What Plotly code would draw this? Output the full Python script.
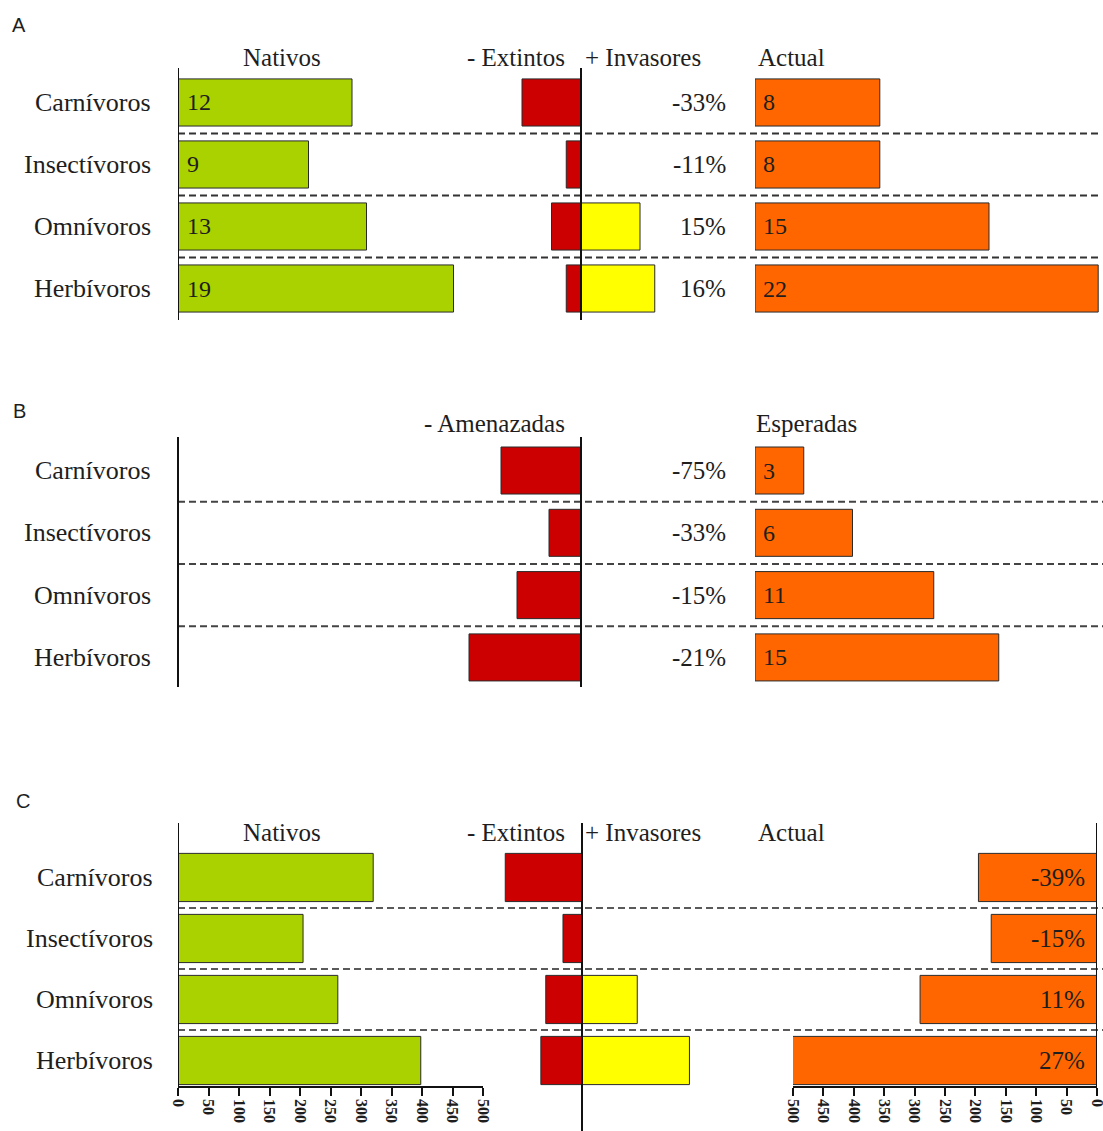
import plotly.graph_objects as go

W, H = 1103, 1131

# ---- data -------------------------------------------------------------
categorias = ["Carnívoros", "Insectívoros", "Omnívoros", "Herbívoros"]
filas = [0, 1, 2, 3]

# A: species counts
nativos_a = [12, 9, 13, 19]
extintos_a = [4, 1, 2, 1]
invasores_a = [0, 0, 4, 5]
actual_a = [8, 8, 15, 22]
cambio_a = ["-33%", "-11%", "15%", "16%"]

# B: threatened / expected
amenazadas_b = [5, 2, 4, 7]
esperadas_b = [3, 6, 11, 15]
cambio_b = ["-75%", "-33%", "-15%", "-21%"]

# C: abundance
nativos_c = [320, 205, 262, 398]
extintos_c = [125, 31, 59, 67]
invasores_c = [0, 0, 90, 175]
actual_c = [195, 174, 291, 505]
cambio_c = ["-39%", "-15%", "11%", "27%"]
ticks_c = [0, 50, 100, 150, 200, 250, 300, 350, 400, 450, 500]

# ---- style ------------------------------------------------------------
VERDE = "#A9D200"
ROJO = "#CC0000"
AMARILLO = "#FFFF00"
NARANJA = "#FF6600"
BORDE = "#2a2a2a"
SERIF = "Liberation Serif"
SANS = "Liberation Sans"
TXT = "#1e1e1e"


def xd(a, b):
    return [a / W, b / W]


def yd(top, bottom):
    return [1 - bottom / H, 1 - top / H]


fig = go.Figure()


def barras(vals, xa, ya, color, width, neg=False, clip=True):
    ys = [f for f, v in zip(filas, vals) if v]
    xs = [(-v if neg else v) for v in vals if v]
    fig.add_trace(go.Bar(
        x=xs, y=ys, orientation="h", xaxis=xa, yaxis=ya, width=width,
        marker=dict(color=color, line=dict(color=BORDE, width=1)),
        cliponaxis=clip, showlegend=False, hoverinfo="skip"))


# Panel A
barras(nativos_a, "x", "y", VERDE, 0.76)
barras(extintos_a, "x2", "y", ROJO, 0.76, neg=True)
barras(invasores_a, "x2", "y", AMARILLO, 0.76)
barras(actual_a, "x3", "y", NARANJA, 0.76)
# Panel B
barras(amenazadas_b, "x4", "y2", ROJO, 0.755, neg=True)
barras(esperadas_b, "x5", "y2", NARANJA, 0.755)
# Panel C
barras(nativos_c, "x6", "y3", VERDE, 0.79)
barras(extintos_c, "x7", "y3", ROJO, 0.79, neg=True)
barras(invasores_c, "x7", "y3", AMARILLO, 0.79)
barras(actual_c, "x8", "y3", NARANJA, 0.79, clip=False)

hidden = dict(showgrid=False, zeroline=False, showticklabels=False,
              showline=False, ticks="", automargin=False)

lay = dict(
    width=W, height=H,
    margin=dict(l=0, r=0, t=0, b=0, pad=0, autoexpand=False),
    autosize=False,
    paper_bgcolor="white", plot_bgcolor="rgba(0,0,0,0)",
    barmode="overlay", showlegend=False,
    yaxis=dict(domain=yd(68, 320), range=[3.508, -0.556], anchor="x", **hidden),
    yaxis2=dict(domain=yd(437, 687), range=[3.475, -0.538], anchor="x4", **hidden),
    yaxis3=dict(domain=yd(823, 1086), range=[3.418, -0.893], anchor="x6", **hidden),
    xaxis=dict(domain=xd(178, 480), range=[0, 302 / 14.5], anchor="y", **hidden),
    xaxis2=dict(domain=xd(490, 680), range=[-91 / 14.75, 99 / 14.75], anchor="y", **hidden),
    xaxis3=dict(domain=xd(755, 1100), range=[0, 345 / 15.6], anchor="y", **hidden),
    xaxis4=dict(domain=xd(460, 680), range=[-121 / 16, 99 / 16], anchor="y2", **hidden),
    xaxis5=dict(domain=xd(755, 1100), range=[0, 345 / 16.25], anchor="y2", **hidden),
    xaxis7=dict(domain=xd(490, 700), range=[-92 / 0.614, 118 / 0.614], anchor="y3", **hidden),
)
tick_axis = dict(showgrid=False, zeroline=False, showline=True, linecolor="#111",
                 linewidth=1.5, ticks="outside", ticklen=8, tickwidth=1.5,
                 tickcolor="#111", tickvals=ticks_c, ticktext=[str(t) for t in ticks_c],
                 tickangle=90, automargin=False, ticklabeloverflow="allow",
                 tickfont=dict(family=SERIF, size=16, color=TXT, weight="bold"),
                 anchor="y3", side="bottom")
lay["xaxis6"] = dict(domain=xd(178, 483), range=[0, 500], **tick_axis)
lay["xaxis8"] = dict(domain=xd(793, 1097), range=[500, 0], **tick_axis)
fig.update_layout(**lay)

# ---- reference lines -------------------------------------------------
shapes = []


def vline(xref, x, yref, y0=0, y1=1, w=2):
    shapes.append(dict(type="line", xref=xref, x0=x, x1=x, yref=yref, y0=y0, y1=y1,
                       line=dict(color="#111", width=w), layer="above"))


vline("x", 0, "y domain")
vline("x2", 0, "y domain")
vline("paper", 178 / W, "y2 domain")
vline("x4", 0, "y2 domain")
vline("x6", 0, "y3 domain")
vline("x7", 0, "paper", 0, 1 - 823 / H)
vline("x8", 0, "paper", 1 - 1090 / H, 1 - 823 / H)


def hdash(yref, y, x1, color):
    shapes.append(dict(type="line", xref="paper", x0=178 / W, x1=x1 / W, yref=yref,
                       y0=y, y1=y, line=dict(color=color, width=2, dash="7px,4px"),
                       layer="below"))


for s in (0.5, 1.5, 2.5):
    hdash("y", s, 1100, "#333")
    hdash("y2", s, 1103, "#444")
    hdash("y3", s, 1103, "#5a5a5a")
fig.update_layout(shapes=shapes)

# ---- text -------------------------------------------------------------
ann = []


def txt(text, x, y, xanchor="center", size=25, family=SERIF, xref="paper",
        yref="paper", xshift=0):
    ann.append(dict(text=text, x=x, y=y, xref=xref, yref=yref, xanchor=xanchor,
                    yanchor="middle", showarrow=False, xshift=xshift,
                    font=dict(family=family, size=size, color=TXT)))


# panel letters
txt("A", 19 / W, 1 - 25 / H, size=20, family=SANS)
txt("B", 19 / W, 1 - 411 / H, size=20, family=SANS)
txt("C", 23 / W, 1 - 801 / H, size=20, family=SANS)

# headers
for yy in (57, 832):
    txt("Nativos", 282 / W, 1 - yy / H)
    txt("- Extintos", 516 / W, 1 - yy / H)
    txt("+ Invasores", 643 / W, 1 - yy / H)
    txt("Actual", 791 / W, 1 - yy / H)
txt("- Amenazadas", 494 / W, 1 - 423 / H)
txt("Esperadas", 806 / W, 1 - 423 / H)

# category names
for f, c in zip(filas, categorias):
    txt(c, 153 / W, f, xanchor="right", yref="y", size=26)
    txt(c, 153 / W, f, xanchor="right", yref="y2", size=26)
    txt(c, 155 / W, f, xanchor="right", yref="y3", size=26)

# values inside bars and percentage changes
for f in filas:
    txt(str(nativos_a[f]), 0, f, xanchor="left", xref="x", yref="y", size=24, xshift=7)
    txt(str(actual_a[f]), 0, f, xanchor="left", xref="x3", yref="y", size=24, xshift=6)
    txt(cambio_a[f], 728 / W, f, xanchor="right", yref="y")
    txt(str(esperadas_b[f]), 0, f, xanchor="left", xref="x5", yref="y2", size=24, xshift=6)
    txt(cambio_b[f], 728 / W, f, xanchor="right", yref="y2")
    txt(cambio_c[f], 0, f, xanchor="right", xref="x8", yref="y3", xshift=-10)

fig.update_layout(annotations=ann)

fig.write_html("out.html")
